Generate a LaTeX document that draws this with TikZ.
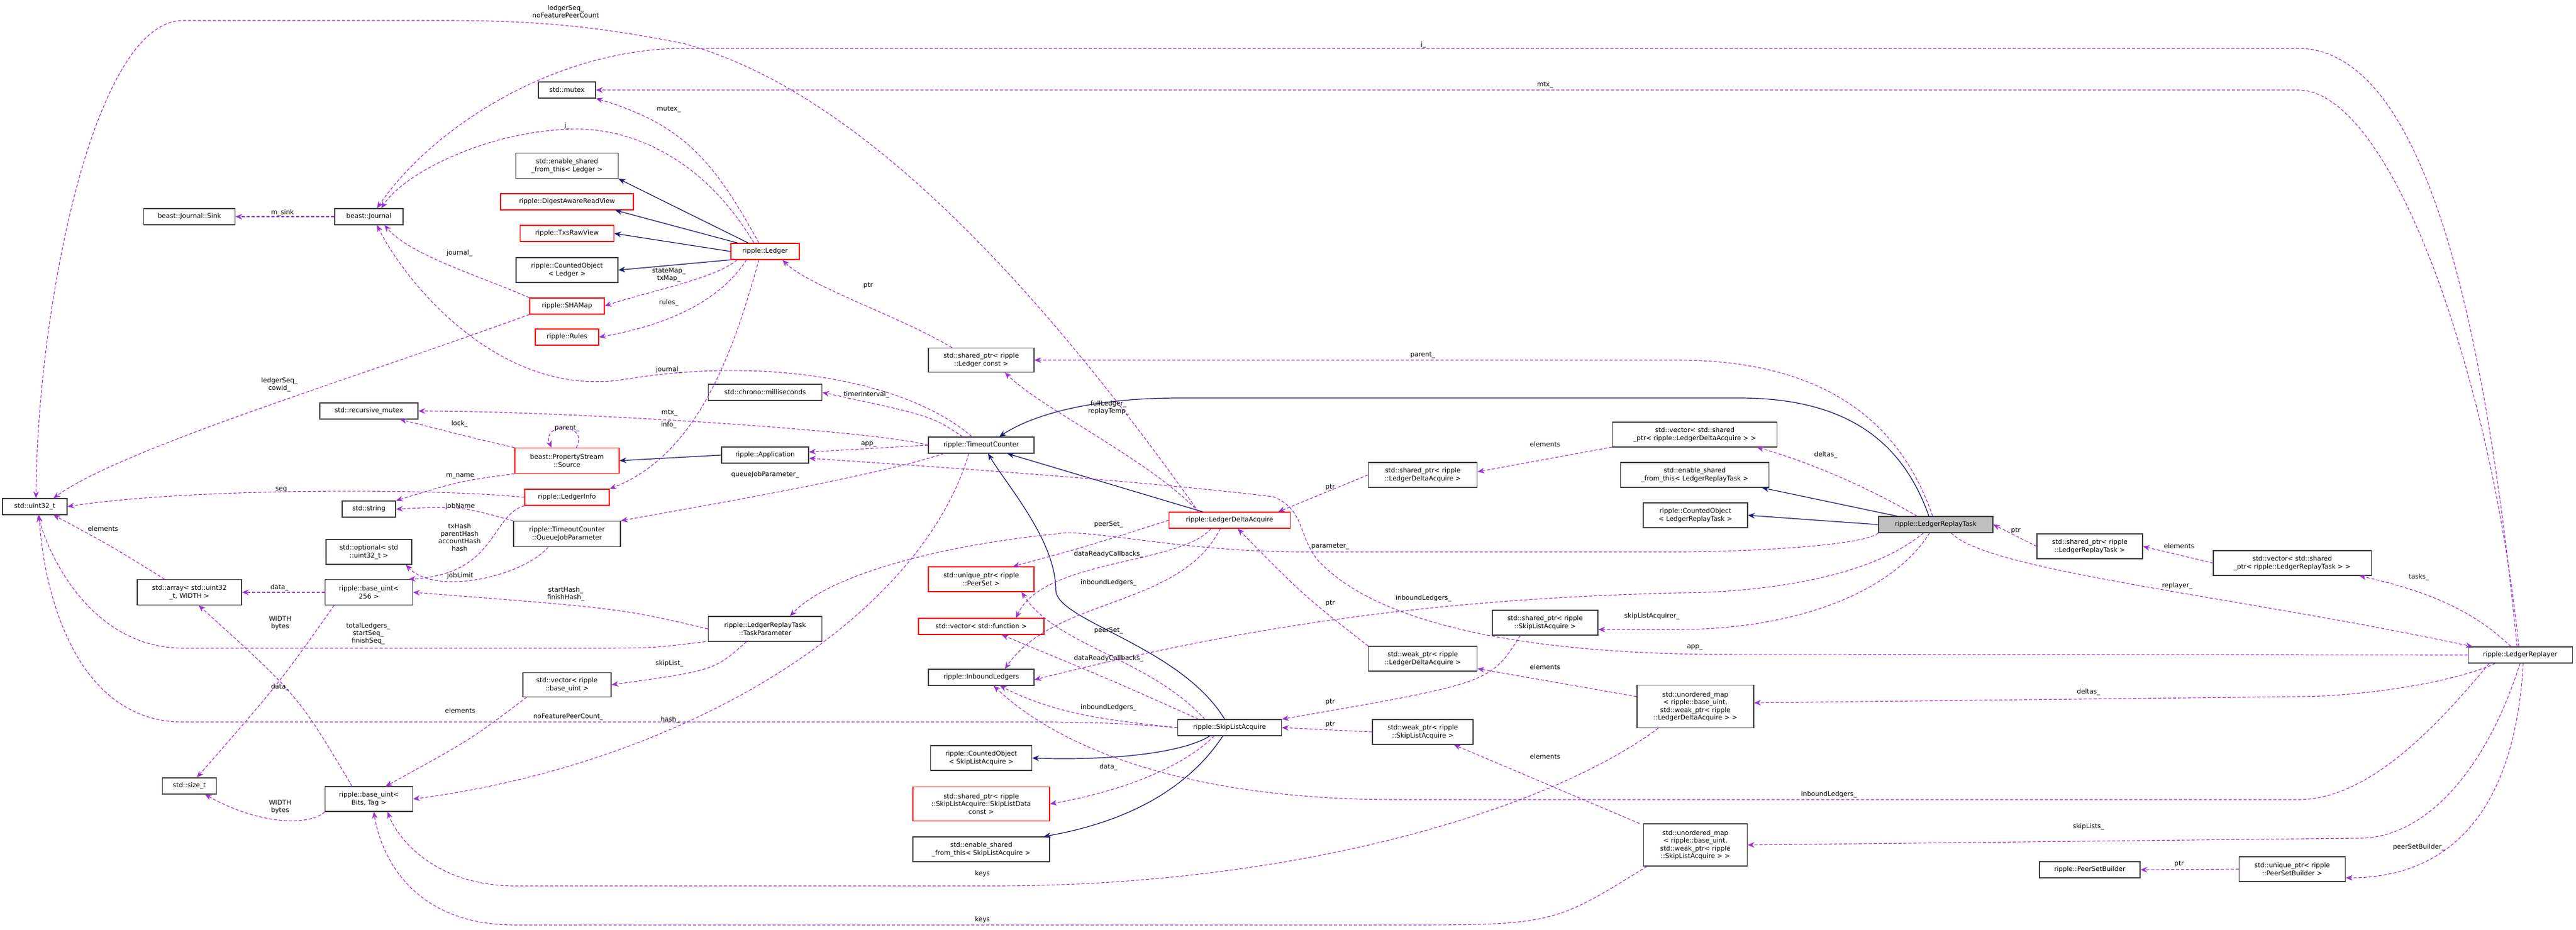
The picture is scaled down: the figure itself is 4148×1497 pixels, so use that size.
\documentclass[tikz,border=0pt]{standalone}
\usepackage{fontspec}
\setmainfont{DejaVu Sans}
\usetikzlibrary{arrows.meta}
\definecolor{dep}{HTML}{9A32CD}
\definecolor{inh}{HTML}{191970}
\tikzset{
 box/.style={draw=black!75,line width=1.1pt,fill=white,align=center,inner sep=2pt,font=\fontsize{10.5}{12.5}\selectfont,minimum height=26pt},
 redbox/.style={box,draw=red},
 depe/.style={draw=dep,line width=1.1pt,dash pattern=on 5pt off 3pt,-{Stealth[length=11pt,width=9pt]}},
 inhe/.style={draw=inh,line width=1.2pt,-{Stealth[length=11pt,width=9pt]}},
 lbl/.style={font=\fontsize{10.5}{12}\selectfont,align=center,inner sep=0pt}
}
\begin{document}
\begin{tikzpicture}[x=1pt,y=-1pt]
\useasboundingbox (0,0) rectangle (4148,1497);
% nodes
\node[box,minimum width=92] (mutex) at (913,145) {std::mutex};
\node[box,minimum width=165,minimum height=41] (esLedger) at (913,267) {std::enable\_shared\\\_from\_this< Ledger >};
\node[redbox,minimum width=214] (digest) at (913,325) {ripple::DigestAwareReadView};
\node[redbox,minimum width=151] (txs) at (913,376) {ripple::TxsRawView};
\node[box,minimum width=164,minimum height=40] (coLedger) at (913,435) {ripple::CountedObject\\< Ledger >};
\node[redbox,minimum width=120] (shamap) at (913,493) {ripple::SHAMap};
\node[redbox,minimum width=102] (rules) at (913,543) {ripple::Rules};
\node[redbox,minimum width=110] (ledger) at (1232,405) {ripple::Ledger};
\node[box,minimum width=110] (journal) at (594,349) {beast::Journal};
\node[box,minimum width=147] (sink) at (305,349) {beast::Journal::Sink};
\node[box,minimum width=183] (chrono) at (1232,632) {std::chrono::milliseconds};
\node[box,minimum width=158] (rmutex) at (594,662) {std::recursive\_mutex};
\node[redbox,minimum width=168,minimum height=41] (source) at (913,742) {beast::PropertyStream\\::Source};
\node[box,minimum width=140] (app) at (1232,733) {ripple::Application};
\node[box,minimum width=104] (uint32) at (56,816) {std::uint32\_t};
\node[redbox,minimum width=136] (linfo) at (913,801) {ripple::LedgerInfo};
\node[box,minimum width=86] (string) at (594,820) {std::string};
\node[box,minimum width=172,minimum height=41] (qjp) at (913,860) {ripple::TimeoutCounter\\::QueueJobParameter};
\node[box,minimum width=138,minimum height=40] (optional) at (594,889) {std::optional< std\\::uint32\_t >};
\node[box,minimum width=168,minimum height=41] (array) at (305,954) {std::array< std::uint32\\\_t, WIDTH >};
\node[box,minimum width=141,minimum height=41] (bu256) at (594,954) {ripple::base\_uint<\\256 >};
\node[box,minimum width=183,minimum height=40] (taskp) at (1232,1013) {ripple::LedgerReplayTask\\::TaskParameter};
\node[box,minimum width=142,minimum height=39] (vecbu) at (913,1103) {std::vector< ripple\\::base\_uint >};
\node[box,minimum width=87] (sizet) at (305,1266) {std::size\_t};
\node[box,minimum width=141,minimum height=40] (buBT) at (594,1287) {ripple::base\_uint<\\Bits, Tag >};
\node[box,minimum width=170,minimum height=39] (splc) at (1580,580) {std::shared\_ptr< ripple\\::Ledger const >};
\node[box,minimum width=170] (tc) at (1580,717) {ripple::TimeoutCounter};
\node[box,minimum width=265,minimum height=40] (vecslda) at (2729,700) {std::vector< std::shared\\\_ptr< ripple::LedgerDeltaAcquire > >};
\node[redbox,minimum width=195] (lda) at (1980,838) {ripple::LedgerDeltaAcquire};
\node[box,minimum width=175,minimum height=40] (splda) at (2291,765) {std::shared\_ptr< ripple\\::LedgerDeltaAcquire >};
\node[redbox,minimum width=170,minimum height=40] (upps) at (1580,933) {std::unique\_ptr< ripple\\::PeerSet >};
\node[redbox,minimum width=202] (vecfn) at (1580,1009) {std::vector< std::function >};
\node[box,minimum width=170] (inb) at (1580,1091) {ripple::InboundLedgers};
\node[box,minimum width=167] (sla) at (1980,1172) {ripple::SkipListAcquire};
\node[box,minimum width=175,minimum height=40] (wplda) at (2291,1061) {std::weak\_ptr< ripple\\::LedgerDeltaAcquire >};
\node[box,minimum width=170,minimum height=40] (spsla) at (2488,1003) {std::shared\_ptr< ripple\\::SkipListAcquire >};
\node[box,minimum width=162,minimum height=40] (wpsla) at (2291,1179) {std::weak\_ptr< ripple\\::SkipListAcquire >};
\node[box,minimum width=163,minimum height=40] (coSla) at (1580,1221) {ripple::CountedObject\\< SkipListAcquire >};
\node[redbox,minimum width=220,minimum height=55] (spsld) at (1580,1295) {std::shared\_ptr< ripple\\::SkipListAcquire::SkipListData\\const >};
\node[box,minimum width=220,minimum height=40] (esSla) at (1580,1368) {std::enable\_shared\\\_from\_this< SkipListAcquire >};
\node[box,minimum width=239,minimum height=40] (esLrt) at (2729,765) {std::enable\_shared\\\_from\_this< LedgerReplayTask >};
\node[box,minimum width=168,minimum height=40] (coLrt) at (2730,830) {ripple::CountedObject\\< LedgerReplayTask >};
\node[box,minimum width=188,minimum height=69] (umdelta) at (2730,1138) {std::unordered\_map\\< ripple::base\_uint,\\ std::weak\_ptr< ripple\\::LedgerDeltaAcquire > >};
\node[box,minimum width=167,minimum height=68] (umskip) at (2730,1361) {std::unordered\_map\\< ripple::base\_uint,\\ std::weak\_ptr< ripple\\::SkipListAcquire > >};
\node[box,minimum width=184,fill=black!25] (lrt) at (3117,845) {ripple::LedgerReplayTask};
\node[box,minimum width=170,minimum height=40] (splrt) at (3365,880) {std::shared\_ptr< ripple\\::LedgerReplayTask >};
\node[box,minimum width=254,minimum height=40] (veclrt) at (3691,907) {std::vector< std::shared\\\_ptr< ripple::LedgerReplayTask > >};
\node[box,minimum width=168] (lr) at (4058,1055) {ripple::LedgerReplayer};
\node[box,minimum width=162] (psb) at (3365,1401) {ripple::PeerSetBuilder};
\node[box,minimum width=171,minimum height=40] (uppsb) at (3691,1400) {std::unique\_ptr< ripple\\::PeerSetBuilder >};
% inheritance
\draw[inhe] ([xshift=-27pt]ledger.north) -- (esLedger.south east);
\draw[inhe] ([xshift=-44pt]ledger.north) -- ([xshift=-30pt]digest.south east);
\draw[inhe] (ledger.west) -- (txs.east);
\draw[inhe] (ledger.south west) -- (coLedger.east);
\draw[inhe] (app.west) -- (source.east);
\draw[inhe] ([xshift=-43pt]lda.north) -- ([xshift=42pt]tc.south);
\draw[inhe] ([xshift=-8pt]sla.north) .. controls (1900,1040) and (1700,1000) .. (1700,950) .. controls (1700,870) and (1620,780) .. ([xshift=11pt]tc.south);
\draw[inhe] ([xshift=-32pt]sla.south) .. controls (1900,1215) and (1780,1225) .. (coSla.east);
\draw[inhe] ([xshift=-11pt]sla.south) .. controls (1900,1290) and (1780,1330) .. ([xshift=-10pt]esSla.north east);
\draw[inhe] ([xshift=-11pt]lrt.north) .. controls (3060,700) and (2960,641) .. (2800,641) -- (1900,641) .. controls (1750,641) and (1660,670) .. ([xshift=29pt]tc.north);
\draw[inhe] ([xshift=-62pt]lrt.north) -- ([xshift=-12pt]esLrt.south east);
\draw[inhe] (lrt.west) -- (coLrt.east);
% dependencies
\draw[depe] (journal.west) -- (sink.east);
\draw[depe] ([xshift=-10pt]ledger.north) .. controls (1150,260) and (1100,200) .. (mutex.south east);
\draw[depe] ([xshift=-18pt]ledger.north) .. controls (1130,250) and (1010,205) .. (920,208) .. controls (780,212) and (650,280) .. ([xshift=20pt]journal.north);
\draw[depe] (shamap.north west) .. controls (760,440) and (660,410) .. ([xshift=25pt]journal.south);
\draw[depe] ([xshift=-45pt]ledger.south) .. controls (1150,450) and (1040,470) .. (shamap.east);
\draw[depe] ([xshift=-30pt]ledger.south) .. controls (1150,500) and (1040,530) .. (rules.east);
\draw[depe] ([xshift=-10pt]ledger.south) .. controls (1185,550) and (1130,730) .. (linfo.north east);
\draw[depe] (shamap.south west) .. controls (600,600) and (200,720) .. ([xshift=30pt]uint32.north);
\draw[depe] ([xshift=-47pt]splc.north) .. controls (1450,510) and (1300,460) .. ([xshift=28pt]ledger.south);
\draw[depe] ([xshift=-50pt]lda.north) .. controls (1850,740) and (1680,660) .. ([xshift=38pt]splc.south);
\draw[depe] ([xshift=-15pt]tc.north) .. controls (1470,620) and (1250,570) .. (1000,612) .. controls (800,640) and (650,450) .. ([xshift=13pt]journal.south);
\draw[depe] ([xshift=-30pt]tc.north) .. controls (1500,670) .. (chrono.east);
\draw[depe] (tc.west) .. controls (1400,692) and (900,662) .. (rmutex.east);
\draw[depe] (tc.west) -- ([yshift=5pt]app.east);
\draw[depe] ([xshift=-60pt]tc.south) .. controls (1400,770) and (1100,820) .. (qjp.north east);
\draw[depe] ([xshift=-20pt]tc.south) .. controls (1480,1000) and (1100,1230) .. (buBT.east);
\draw[depe] ([xshift=15pt]source.north) .. controls (950,680) and (870,680) .. ([xshift=-25pt]source.north);
\draw[depe] (source.north west) .. controls (760,705) .. ([xshift=50pt]rmutex.south);
\draw[depe] (source.south west) .. controls (740,775) .. (string.north east);
\draw[depe] (linfo.west) .. controls (700,786) and (300,786) .. (uint32.east);
\draw[depe] (linfo.south west) .. controls (790,830) and (800,925) .. ([xshift=64pt]bu256.north);
\draw[depe] (qjp.north west) .. controls (740,815) .. (string.east);
\draw[depe] ([xshift=-30pt]qjp.south) .. controls (840,930) and (700,960) .. ([xshift=-10pt]optional.south east);
\draw[depe] (bu256.west) -- (array.east);
\draw[depe] ([xshift=-56pt]bu256.south) .. controls (450,1100) .. ([xshift=12pt]sizet.north);
\draw[depe] ([xshift=-40pt]array.north) .. controls (180,880) .. ([xshift=30pt]uint32.south);
\draw[depe] ([xshift=-27pt]buBT.north) .. controls (480,1120) .. ([xshift=15pt]array.south);
\draw[depe] (buBT.south west) .. controls (500,1330) and (420,1330) .. ([xshift=25pt]sizet.south);
\draw[depe] (taskp.west) .. controls (1000,980) .. (bu256.east);
\draw[depe] ([xshift=-4pt]taskp.south west) .. controls (1050,1044) .. (938,1044) -- (295,1044) .. controls (150,1044) and (80,900) .. ([xshift=5pt]uint32.south);
\draw[depe] ([xshift=-30pt]taskp.south) .. controls (1150,1080) .. (vecbu.east);
\draw[depe] ([xshift=-65pt]vecbu.south) .. controls (760,1190) .. ([xshift=27pt]buBT.north);
\draw[depe] (sla.west) .. controls (1800,1165) .. (1700,1163) -- (295,1163) .. controls (120,1163) and (70,950) .. ([xshift=7pt]uint32.south);
\draw[depe] ([xshift=-50pt]lda.north) .. controls (1700,500) and (1400,150) .. (1100,70) .. controls (950,40) and (850,33) .. (714,33) -- (295,33) .. controls (150,33) and (60,500) .. ([xshift=2pt]uint32.north);
\draw[depe] (lda.west) .. controls (1750,880) .. ([xshift=51pt]upps.north);
\draw[depe] ([xshift=-30pt]lda.south) .. controls (1900,910) and (1680,900) .. ([xshift=56pt]vecfn.north);
\draw[depe] ([xshift=-15pt]lda.south) .. controls (1900,980) and (1700,960) .. ([xshift=38pt]inb.north);
\draw[depe] ([xshift=-40pt]sla.north) .. controls (1850,1060) and (1700,1040) .. ([xshift=65pt]upps.south);
\draw[depe] ([xshift=-50pt]sla.north) .. controls (1800,1100) .. ([xshift=33pt]vecfn.south);
\draw[depe] (sla.west) .. controls (1780,1160) and (1700,1150) .. ([xshift=30pt]inb.south);
\draw[depe] ([xshift=-25pt]sla.south) .. controls (1900,1240) and (1800,1275) .. (spsld.east);
\draw[depe] ([xshift=-20pt]lrt.south) .. controls (3000,940) and (2800,955) .. (2700,955) .. controls (2300,965) and (2000,1010) .. ([yshift=-4pt]inb.east);
\draw[depe] (lrt.south west) .. controls (3000,880) and (2800,889) .. (2700,889) -- (2100,889) .. controls (1900,889) and (1750,850) .. (1700,860) .. controls (1500,880) and (1330,930) .. ([xshift=40pt]taskp.north);
\draw[depe] ([xshift=-10pt]lrt.south) .. controls (3050,950) and (2900,1014) .. (2700,1014) -- ([yshift=-11pt]spsla.east);
\draw[depe] ([xshift=-5pt]lrt.north) .. controls (3050,650) and (2900,580) .. (2700,580) -- (splc.east);
\draw[depe] ([xshift=-30pt]lrt.north) .. controls (3000,780) and (2900,740) .. ([xshift=100pt]vecslda.south);
\draw[depe] ([xshift=25pt]lrt.south) .. controls (3200,920) and (3600,960) .. ([xshift=8pt]lr.north west);
\draw[depe] (splrt.west) -- (lrt.east);
\draw[depe] (veclrt.west) -- (splrt.east);
\draw[depe] ([xshift=-15pt]lr.north) .. controls (3980,980) and (3900,950) .. ([xshift=108pt]veclrt.south);
\draw[depe] (lr.west) -- (2750,1054) .. controls (2400,1050) and (2200,990) .. (2120,900) .. controls (2090,860) and (2100,820) .. (2050,800) .. controls (1800,770) and (1400,745) .. ([yshift=-5pt]app.east);
\draw[depe] ([xshift=-40pt]lr.south) .. controls (3950,1100) and (3800,1122) .. (3700,1122) -- ([yshift=6pt]umdelta.east);
\draw[depe] ([xshift=-50pt]lr.south) .. controls (3900,1200) and (3800,1288) .. (3700,1288) -- (2250,1288) .. controls (1900,1288) and (1700,1200) .. ([xshift=20pt]inb.south);
\draw[depe] (lr.south) .. controls (4000,1250) and (3900,1350) .. (3800,1350) -- (umskip.east);
\draw[depe] ([xshift=5pt]lr.south) .. controls (4050,1300) and (3950,1414) .. ([yshift=-14pt]uppsb.east);
\draw[depe] (uppsb.west) -- (psb.east);
\draw[depe] ([yshift=16pt]umdelta.west) -- ([yshift=-16pt]wplda.east);
\draw[depe] ([xshift=-60pt]umdelta.south) .. controls (2500,1300) and (2100,1427) .. (1600,1427) -- (830,1427) .. controls (700,1427) and (640,1350) .. ([xshift=30pt]buBT.south);
\draw[depe] ([xshift=-90pt]umskip.north) -- ([xshift=50pt]wpsla.south);
\draw[depe] ([xshift=-78pt]umskip.south) .. controls (2500,1490) .. (2243,1490) -- (830,1490) .. controls (650,1490) and (610,1360) .. ([xshift=8pt]buBT.south);
\draw[depe] (wplda.north west) .. controls (2100,960) .. ([xshift=13pt]lda.south);
\draw[depe] (splda.west) -- ([xshift=-20pt]lda.north east);
\draw[depe] ([yshift=-20pt]vecslda.west) -- ([yshift=5pt]splda.east);
\draw[depe] ([xshift=-40pt]spsla.south) .. controls (2400,1100) .. (sla.north east);
\draw[depe] (wpsla.west) -- (sla.east);
\draw[depe] ([xshift=-5pt]lr.north) .. controls (4000,500) and (3900,78) .. (3700,78) -- (1100,78) .. controls (900,78) and (700,200) .. ([xshift=13pt]journal.north);
\draw[depe] ([xshift=-2pt]lr.north) .. controls (4010,600) and (3850,145) .. (3700,145) -- (mutex.east);
% labels
\node[lbl] (l1) at (455,343) {m\_sink};
\node[lbl] (l2) at (1077,176) {mutex\_};
\node[lbl] (l3) at (913,203) {j\_};
\node[lbl] (l4) at (740,408) {journal\_};
\node[lbl] (l5) at (1077,443) {stateMap\_\\txMap\_};
\node[lbl] (l6) at (1077,488) {rules\_};
\node[lbl] (l7) at (1077,685) {info\_};
\node[lbl] (l8) at (450,620) {ledgerSeq\_\\cowid\_};
\node[lbl] (l9) at (1398,460) {ptr};
\node[lbl] (l10) at (1785,657) {fullLedger\_\\replayTemp\_};
\node[lbl] (l11) at (1077,596) {journal\_};
\node[lbl] (l12) at (1395,636) {timerInterval\_};
\node[lbl] (l13) at (1078,665) {mtx\_};
\node[lbl] (l14) at (1399,716) {app\_};
\node[lbl] (l15) at (1232,765) {queueJobParameter\_};
\node[lbl] (l16) at (1079,1160) {hash\_};
\node[lbl] (l17) at (913,690) {parent\_};
\node[lbl] (l18) at (740,683) {lock\_};
\node[lbl] (l19) at (741,767) {m\_name};
\node[lbl] (l20) at (453,789) {seq};
\node[lbl] (l21) at (740,866) {txHash\\parentHash\\accountHash\\hash};
\node[lbl] (l22) at (741,816) {jobName};
\node[lbl] (l23) at (741,928) {jobLimit};
\node[lbl] (l24) at (450,947) {data\_};
\node[lbl] (l25) at (451,1004) {WIDTH\\bytes};
\node[lbl] (l26) at (166,852) {elements};
\node[lbl] (l27) at (451,1107) {data\_};
\node[lbl] (l28) at (451,1300) {WIDTH\\bytes};
\node[lbl] (l29) at (911,957) {startHash\_\\finishHash\_};
\node[lbl] (l30) at (593,1021) {totalLedgers\_\\startSeq\_\\finishSeq\_};
\node[lbl] (l31) at (1078,1069) {skipList\_};
\node[lbl] (l32) at (741,1145) {elements};
\node[lbl] (l33) at (915,1155) {noFeaturePeerCount\_};
\node[lbl] (l34) at (911,19) {ledgerSeq\_\\noFeaturePeerCount};
\node[lbl] (l35) at (1785,845) {peerSet\_};
\node[lbl] (l36) at (1785,893) {dataReadyCallbacks\_};
\node[lbl] (l37) at (1785,939) {inboundLedgers\_};
\node[lbl] (l38) at (1785,1016) {peerSet\_};
\node[lbl] (l39) at (1785,1061) {dataReadyCallbacks\_};
\node[lbl] (l40) at (1785,1140) {inboundLedgers\_};
\node[lbl] (l41) at (1785,1236) {data\_};
\node[lbl] (l42) at (2292,964) {inboundLedgers\_};
\node[lbl] (l43) at (2142,880) {parameter\_};
\node[lbl] (l44) at (2660,993) {skipListAcquirer\_};
\node[lbl] (l45) at (2291,572) {parent\_};
\node[lbl] (l46) at (2940,733) {deltas\_};
\node[lbl] (l47) at (3506,944) {replayer\_};
\node[lbl] (l48) at (3246,855) {ptr};
\node[lbl] (l49) at (3509,880) {elements};
\node[lbl] (l50) at (3895,930) {tasks\_};
\node[lbl] (l51) at (2729,1043) {app\_};
\node[lbl] (l52) at (3363,1115) {deltas\_};
\node[lbl] (l53) at (2945,1280) {inboundLedgers\_};
\node[lbl] (l54) at (3363,1332) {skipLists\_};
\node[lbl] (l55) at (3895,1365) {peerSetBuilder\_};
\node[lbl] (l56) at (3509,1392) {ptr};
\node[lbl] (l57) at (2488,1075) {elements};
\node[lbl] (l58) at (1582,1408) {keys};
\node[lbl] (l59) at (2488,1219) {elements};
\node[lbl] (l60) at (1582,1482) {keys};
\node[lbl] (l61) at (2142,972) {ptr};
\node[lbl] (l62) at (2142,785) {ptr};
\node[lbl] (l63) at (2488,716) {elements};
\node[lbl] (l64) at (2142,1131) {ptr};
\node[lbl] (l65) at (2142,1167) {ptr};
\node[lbl] (l66) at (2292,72) {j\_};
\node[lbl] (l67) at (2488,137) {mtx\_};
\end{tikzpicture}
\end{document}
